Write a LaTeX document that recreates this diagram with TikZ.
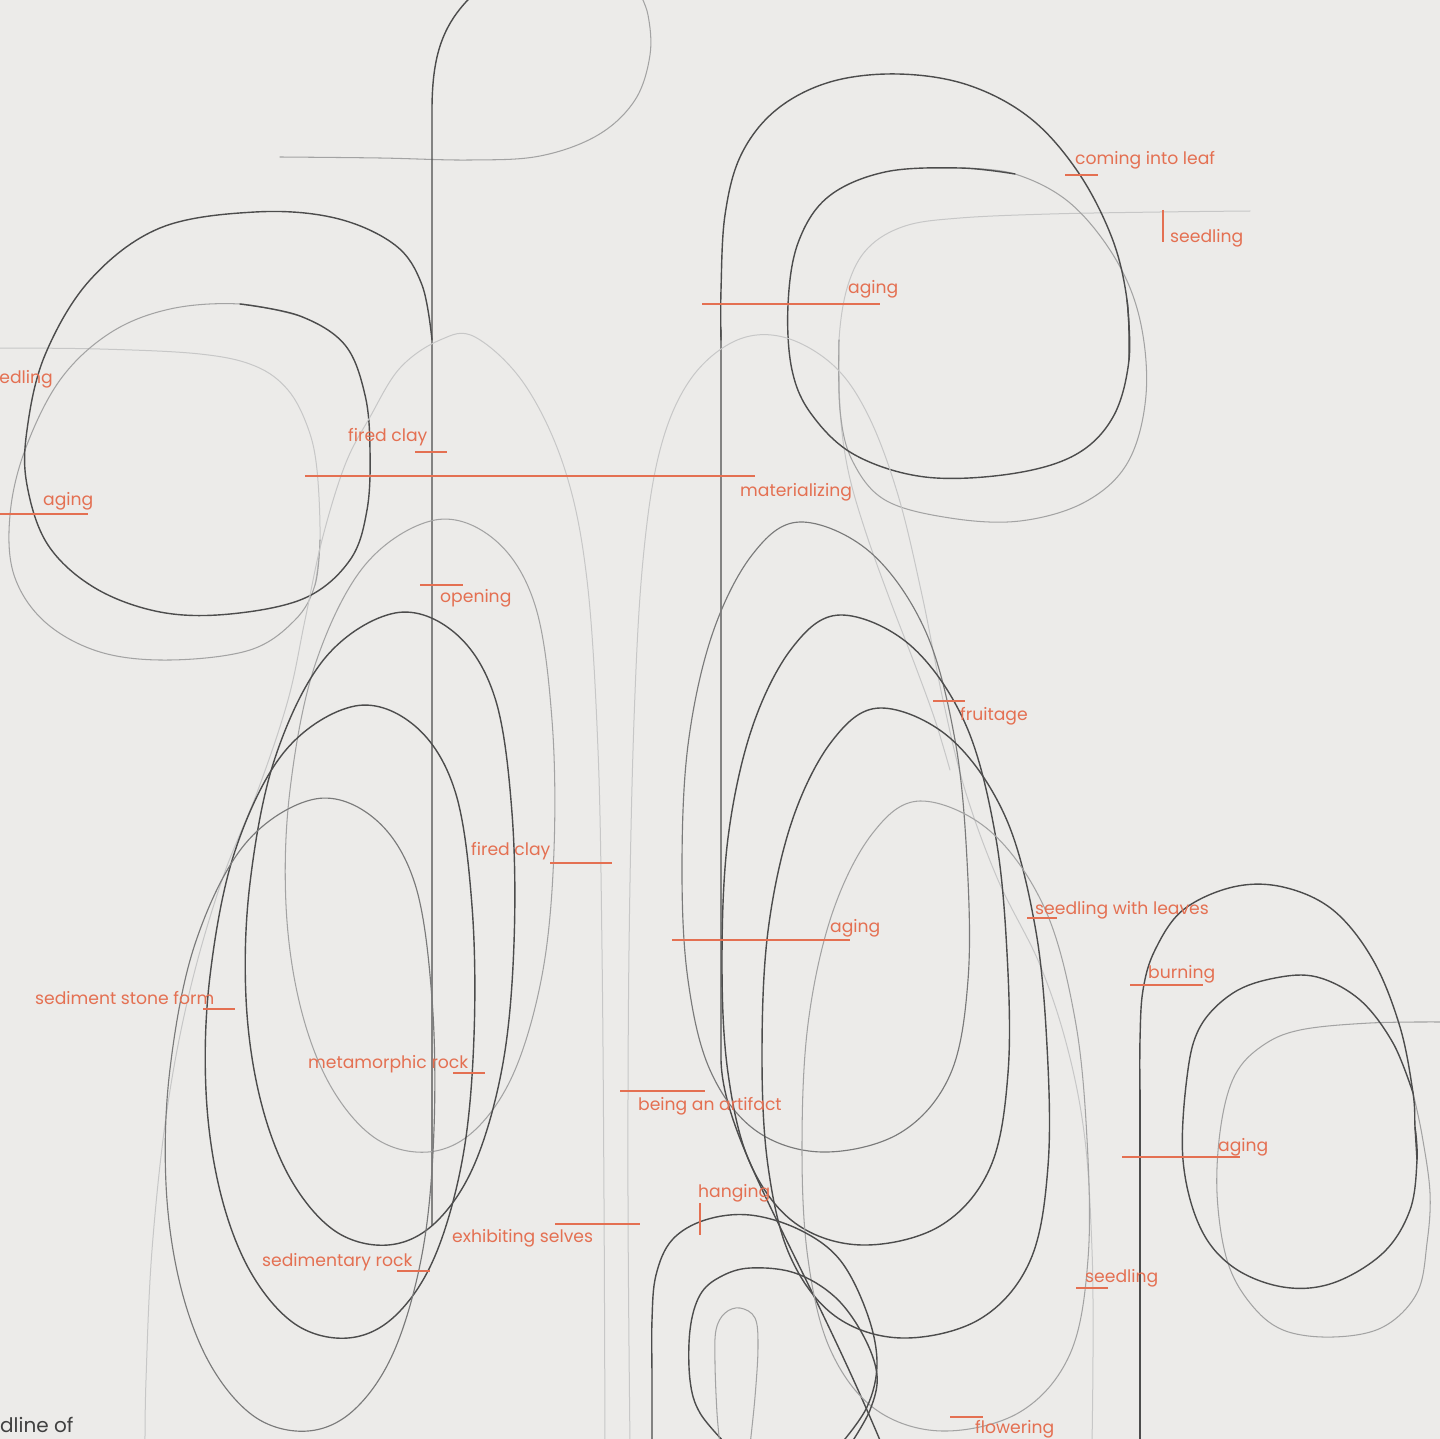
\documentclass[tikz,border=0pt]{standalone}
\usepackage{fontspec}
\setmainfont{Poppins}
\begin{document}
\begin{tikzpicture}[x=1pt,y=-1pt,
  dk/.style={draw=black!70,line width=1.4pt,line cap=round,line join=round},
  md/.style={draw=black!52,line width=1.15pt,line cap=round,line join=round},
  lt/.style={draw=black!36,line width=1.05pt,line cap=round,line join=round},
  ft/.style={draw=black!22,line width=1pt,line cap=round,line join=round},
  lbl/.style={text=lab,font=\fontsize{17.2}{17}\selectfont,inner sep=0pt,anchor=base west},
  tk/.style={draw=lab,line width=1.3pt}]
\definecolor{bg}{RGB}{236,235,233}
\definecolor{lab}{RGB}{228,112,82}
\fill[bg] (0,0) rectangle (1440,1439);
\useasboundingbox (0,0) rectangle (1440,1439);
\clip (0,0) rectangle (1440,1439);

% ---------- top plant ----------
\draw[lt] plot[smooth,tension=0.6] coordinates {(280,157) (380,158) (470,160) (540,156) (598,135) (635,100) (650,55) (648,15) (638,-10)};
\draw[dk] (432,1225) -- (432,110) .. controls (432,50) and (445,20) .. (478,-10);

% ---------- left plant ----------
\draw[ft] plot[smooth,tension=0.6] coordinates {(-5,348) (100,349) (200,354) (255,366) (288,390) (308,428) (317,470) (320,540) (315,585)};
\draw[lt] plot[smooth,tension=0.6] coordinates {(320,540) (315,585) (295,620) (250,650) (170,660) (100,652) (45,622) (14,575) (10,515) (25,450) (60,380) (110,333) (170,309) (240,304) (300,316)};
\draw[dk] plot[smooth,tension=0.6] coordinates {(240,304) (300,316) (345,345) (365,395) (370,450) (367,510) (350,560) (305,598) (230,614) (160,612) (95,588) (48,545) (27,485) (27,430) (45,355) (90,280) (160,228) (255,212) (335,218) (395,245) (422,285) (432,340)};

% ---------- top right plant ----------
\draw[ft] plot[smooth,tension=0.6] coordinates {(1250,211) (1160,212) (1050,214) (960,218) (905,226) (868,248) (848,285) (839,340) (840,410)};
\draw[ft] plot[smooth,tension=0.6] coordinates {(839,340) (840,410) (848,470) (865,530) (890,600) (915,665) (935,720) (950,770)};
\draw[lt] plot[smooth,tension=0.6] coordinates {(839,340) (840,410) (852,460) (885,500) (950,518) (1020,521) (1085,502) (1128,462) (1146,395) (1140,320) (1115,258) (1070,203) (1015,174) (960,168)};
\draw[dk] plot[smooth,tension=0.6] coordinates {(1015,174) (960,168) (885,172) (828,197) (798,243) (788,305) (792,370) (812,415) (855,455) (925,477) (1010,474) (1075,455) (1113,417) (1129,360) (1127,300)};
\draw[dk] plot[smooth,tension=0.6] coordinates {(1129,360) (1127,300) (1112,238) (1078,172) (1030,118) (968,85) (898,74) (830,82) (776,110) (741,155) (725,215) (721,290) (721,340)};
\draw[dk] (721,330) -- (721,1060) .. controls (723,1140) and (800,1250) .. (882,1445);

% ---------- tall faint arches ----------
\draw[ft] plot[smooth,tension=0.6] coordinates {(605,1445) (604,1200) (602,950) (598,750) (587,580) (565,470) (525,385) (475,337) (440,340) (400,368) (370,417) (345,465) (322,540) (305,620) (288,700) (258,790) (222,880) (190,990) (167,1110) (152,1250) (146,1380) (145,1445)};
\draw[ft] plot[smooth,tension=0.6] coordinates {(630,1445) (628,1200) (629,950) (634,720) (643,560) (660,450) (690,380) (735,341) (783,337) (833,365) (868,415) (898,495) (922,595) (943,700) (965,790) (998,880) (1040,965) (1068,1050) (1085,1140) (1092,1250) (1093,1350) (1092,1445)};

% ---------- left group of loops ----------
\foreach \k/\st in {0/lt,1/dk,2/dk,3/md}{
  \draw[\st,shift={(-40*\k,93*\k)}] plot[smooth cycle,tension=0.6] coordinates {(435,520) (495,540) (535,605) (552,720) (554,850) (543,970) (515,1070) (475,1130) (428,1152) (375,1138) (330,1085) (300,1005) (286,905) (290,790) (315,665) (365,565)};
}

% ---------- centre-right group of loops ----------
\foreach \k/\st in {0/md,1/dk,2/dk,3/lt}{
  \draw[\st,shift={(40*\k,93*\k)}] plot[smooth cycle,tension=0.6] coordinates {(800,522) (870,552) (925,630) (955,740) (967,860) (968,980) (950,1075) (900,1133) (822,1152) (755,1130) (710,1070) (688,980) (682,870) (688,745) (712,635) (752,555)};
}

% ---------- hanging plant ----------
\draw[dk] plot[smooth,tension=0.6] coordinates {(652,1445) (652,1380) (652,1320) (656,1275) (672,1240) (705,1220) (750,1215) (800,1230) (840,1260) (867,1313) (877,1363) (867,1407) (840,1445)};
\draw[dk] plot[smooth,tension=0.6] coordinates {(727,1445) (700,1413) (690,1380) (690,1330) (700,1295) (720,1277) (750,1268) (795,1273) (835,1297) (863,1335) (877,1375) (870,1410) (850,1445)};
\draw[lt] plot[smooth,tension=0.6] coordinates {(720,1445) (717,1413) (715,1363) (716,1330) (725,1313) (740,1308) (755,1318) (758,1347) (755,1397) (750,1445)};

% ---------- bottom right plant ----------
\draw[lt] plot[smooth,tension=0.6] coordinates {(1445,1022) (1370,1023) (1300,1030) (1262,1046) (1235,1075) (1221,1125) (1217,1193) (1227,1260) (1250,1303) (1283,1330) (1333,1337) (1383,1327) (1417,1293) (1427,1243) (1430,1193) (1422,1135) (1413,1093)};
\draw[dk] plot[smooth,tension=0.6] coordinates {(1413,1093) (1393,1043) (1360,1000) (1317,977) (1275,978) (1233,993) (1200,1027) (1187,1077) (1183,1160) (1200,1227) (1233,1267) (1283,1287) (1333,1283) (1383,1253) (1410,1210) (1417,1160) (1415,1127)};
\draw[dk] plot[smooth,tension=0.6] coordinates {(1417,1160) (1415,1127) (1413,1093) (1400,1027) (1373,960) (1333,910) (1283,887) (1233,887) (1183,910) (1155,950) (1143,990) (1140,1040) (1140,1100)};
\draw[dk] (1140,1090) -- (1140,1445);

% ---------- labels ----------
\node[lbl] (l1) at (1075,165) {coming into leaf};
\draw[tk] (1065,175) -- (1098,175);
\node[lbl] (l2) at (1170,243) {seedling};
\draw[tk] (1163,210) -- (1163,242);
\node[lbl] (l3) at (848,294) {aging};
\draw[tk] (702,304) -- (880,304);
\node[lbl,anchor=base east] (l4) at (53,383) {edling};
\node[lbl] (l5) at (348,441) {fired clay};
\draw[tk] (415,452) -- (447,452);
\node[lbl] (l6) at (740,496) {materializing};
\draw[tk] (305,476) -- (755,476);
\node[lbl] (l7) at (43,505) {aging};
\draw[tk] (0,514) -- (88,514);
\node[lbl] (l8) at (440,602) {opening};
\draw[tk] (420,585) -- (463,585);
\node[lbl] (l9) at (960,720) {fruitage};
\draw[tk] (933,701) -- (965,701);
\node[lbl] (l10) at (471,855) {fired clay};
\draw[tk] (550,863) -- (612,863);
\node[lbl] (l11) at (1035,914) {seedling with leaves};
\draw[tk] (1027,918) -- (1057,918);
\node[lbl] (l12) at (830,932) {aging};
\draw[tk] (672,940) -- (850,940);
\node[lbl] (l13) at (1148,978) {burning};
\draw[tk] (1130,985) -- (1203,985);
\node[lbl] (l14) at (35,1004) {sediment stone form};
\draw[tk] (203,1009) -- (235,1009);
\node[lbl] (l15) at (308,1068) {metamorphic rock};
\draw[tk] (453,1073) -- (485,1073);
\node[lbl] (l16) at (638,1110) {being an artifact};
\draw[tk] (620,1091) -- (705,1091);
\node[lbl] (l17) at (1218,1151) {aging};
\draw[tk] (1122,1157) -- (1240,1157);
\node[lbl] (l18) at (698,1197) {hanging};
\draw[tk] (700,1203) -- (700,1235);
\node[lbl] (l19) at (452,1242) {exhibiting selves};
\draw[tk] (555,1224) -- (640,1224);
\node[lbl] (l20) at (262,1266) {sedimentary rock};
\draw[tk] (397,1271) -- (430,1271);
\node[lbl] (l21) at (1085,1282) {seedling};
\draw[tk] (1076,1288) -- (1108,1288);
\node[lbl] (l22) at (975,1433) {flowering};
\draw[tk] (950,1417) -- (983,1417);
\node[text=black!75,font=\fontsize{20}{20}\selectfont,inner sep=0pt,anchor=base west] (l23) at (0,1432) {dline of};
\end{tikzpicture}
\end{document}
